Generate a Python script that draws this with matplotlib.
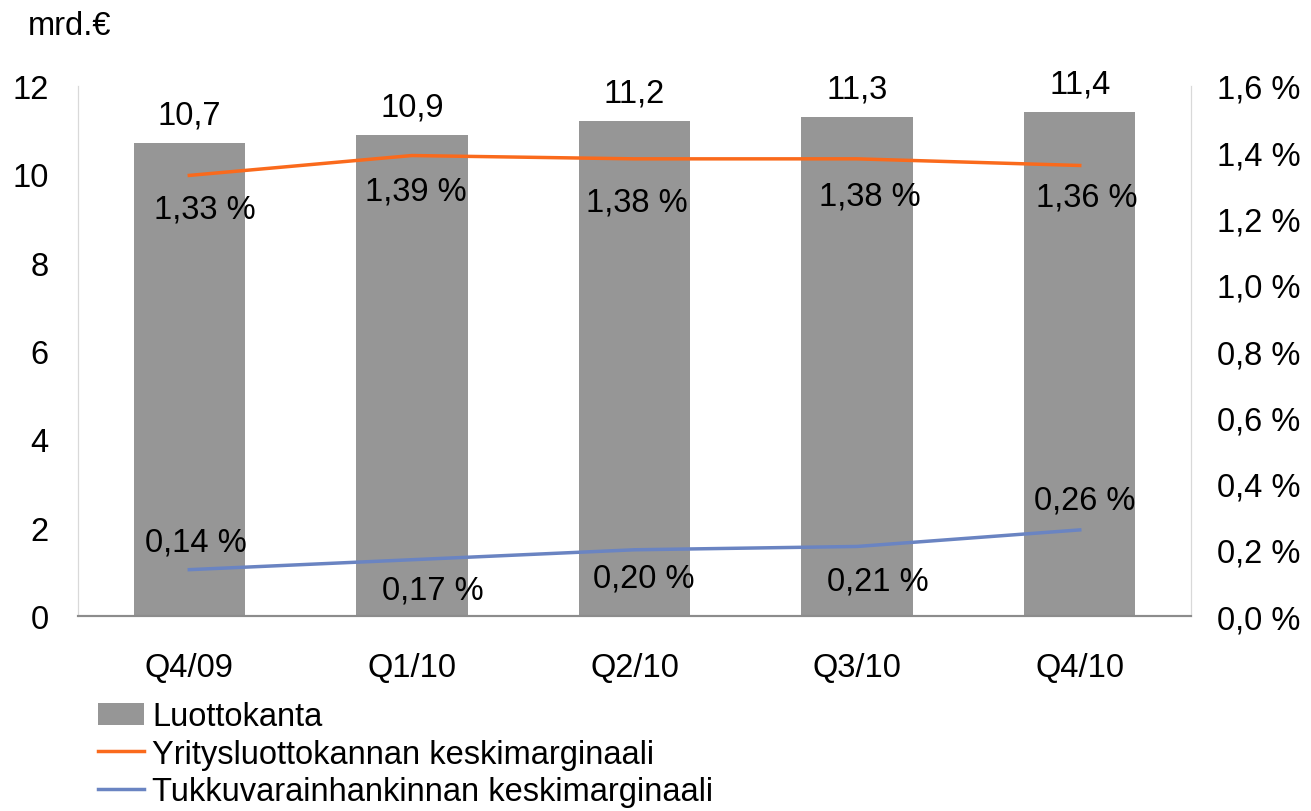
import matplotlib.pyplot as plt
from matplotlib.patches import Patch
from matplotlib.lines import Line2D

plt.rcParams['font.family'] = ['Liberation Sans', 'DejaVu Sans']

quarters = ["Q4/09", "Q1/10", "Q2/10", "Q3/10", "Q4/10"]
luottokanta = [10.7, 10.9, 11.2, 11.3, 11.4]
yritys_marg = [1.33, 1.39, 1.38, 1.38, 1.36]
tukku_marg = [0.14, 0.17, 0.20, 0.21, 0.26]

# label offsets (points) as placed in the original
yritys_off = [(11, -24), (3, -25.5), (2, -31), (9, -27), (5, -23)]
tukku_off = [(5, 20), (15, -22), (6.5, -20.5), (15, -25), (3.5, 21.5)]

bar_color = "#969696"
orange = "#FA6A1C"
blue = "#6A84C2"
fs = 23.5


def fi(v, nd):
    return f"{v:.{nd}f}".replace(".", ",")


fig = plt.figure(figsize=(13.11, 8.12), dpi=100)
ax = fig.add_axes([0.0595, 0.2401, 0.849, 0.6528])
ax2 = ax.twinx()

x = range(len(quarters))
ax.bar(x, luottokanta, width=0.5, color=bar_color, zorder=2)
for i, v in enumerate(luottokanta):
    ax.annotate(fi(v, 1), (i, v), xytext=(0, 9), textcoords="offset points",
                ha="center", va="bottom", fontsize=fs)

ax.set_xlim(-0.5, len(quarters) - 0.5)
ax.set_ylim(0, 12)
ax.set_yticks(range(0, 13, 2))
ax.set_xticks(list(x))
ax.set_xticklabels(quarters)
ax.tick_params(axis="both", length=0, labelsize=fs)
ax.tick_params(axis="y", pad=21)
ax.tick_params(axis="x", pad=26)

ax2.plot(x, yritys_marg, color=orange, lw=2.5, zorder=3)
ax2.plot(x, tukku_marg, color=blue, lw=2.5, zorder=3)
for i, v in enumerate(yritys_marg):
    ax2.annotate(fi(v, 2) + " %", (i, v), xytext=yritys_off[i], textcoords="offset points",
                 ha="center", va="center", fontsize=fs)
for i, v in enumerate(tukku_marg):
    ax2.annotate(fi(v, 2) + " %", (i, v), xytext=tukku_off[i], textcoords="offset points",
                 ha="center", va="center", fontsize=fs)

ax2.set_ylim(0, 1.6)
ax2.set_yticks([0, 0.2, 0.4, 0.6, 0.8, 1.0, 1.2, 1.4, 1.6])
ax2.set_yticklabels([fi(t, 1) + " %" for t in ax2.get_yticks()])
ax2.tick_params(axis="y", length=0, labelsize=fs, pad=19)

for a in (ax, ax2):
    a.spines["top"].set_visible(False)
    a.spines["left"].set_color("#D9D9D9")
    a.spines["right"].set_color("#D9D9D9")
    a.spines["bottom"].set_color("#8C8C8C")
    a.spines["bottom"].set_linewidth(1.5)

fig.text(0.021, 0.967, "mrd.€", fontsize=fs, va="center", ha="left")

handles = [
    Patch(facecolor=bar_color, edgecolor="none"),
    Line2D([], [], color=orange, lw=2.5),
    Line2D([], [], color=blue, lw=2.5),
]
labels = ["Luottokanta", "Yritysluottokannan keskimarginaali",
          "Tukkuvarainhankinnan keskimarginaali"]
fig.legend(handles, labels, loc="upper left", bbox_to_anchor=(0.0748, 0.135),
           frameon=False, fontsize=fs, handlelength=1.4, handletextpad=0.25,
           labelspacing=0.2, borderaxespad=0, borderpad=0)

fig.savefig("out.png", dpi=100)
